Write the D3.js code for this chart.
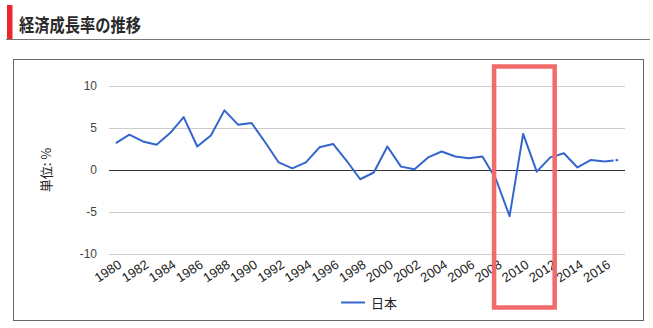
<!DOCTYPE html>
<html><head><meta charset="utf-8">
<script src="https://cdn.jsdelivr.net/npm/d3@7"></script>
<style>
body{margin:0;background:#fff;}
svg{display:block;}
</style></head>
<body>
<svg id="c" width="653" height="328"></svg>
<script>
const title = "経済成長率の推移";
const seriesName = "日本";
const yAxisTitle = "単位: %";
const years = d3.range(1980, 2018);
const growth = [3.2, 4.2, 3.4, 3.0, 4.4, 6.3, 2.8, 4.1, 7.1, 5.4,
                5.6, 3.3, 0.9, 0.2, 0.9, 2.7, 3.1, 1.1, -1.1, -0.3,
                2.8, 0.4, 0.1, 1.5, 2.2, 1.6, 1.4, 1.6, -1.1, -5.5,
                4.3, -0.2, 1.5, 2.0, 0.3, 1.2, 1.0, 1.2];
const yTicks = [-10, -5, 0, 5, 10];
const xTickLabels = d3.range(1980, 2017, 2);
const highlightFrom = 2008, highlightTo = 2012;

const svg = d3.select("#c");
const numFont = "'Liberation Sans', Arial, sans-serif";
const jpFont = "'Noto Sans CJK JP', sans-serif";

// header
svg.append("rect").attr("x", 7).attr("y", 5).attr("width", 5.5).attr("height", 34).attr("fill", "#e8282d");
svg.append("line").attr("x1", 6).attr("x2", 650).attr("y1", 39.5).attr("y2", 39.5).attr("stroke", "#777").attr("stroke-width", 1);
svg.append("text").attr("x", 19).attr("y", 31.5).attr("font-family", jpFont).attr("font-weight", "bold")
  .attr("font-size", 18.5).attr("fill", "#2a2a2a")
  .attr("textLength", 122).attr("lengthAdjust", "spacingAndGlyphs").text(title);

// chart frame
svg.append("rect").attr("x", 13.5).attr("y", 59.5).attr("width", 630).attr("height", 261)
  .attr("fill", "#fff").attr("stroke", "#666").attr("stroke-width", 1);

const x = d3.scalePoint().domain(years).range([109, 625]).padding(0.5);
const y = d3.scaleLinear().domain([-10, 10]).range([254, 86]);

// grid
const g = svg.append("g");
g.selectAll("line.grid").data(yTicks.filter(d => d !== 0)).join("line")
  .attr("x1", 109).attr("x2", 625).attr("y1", d => Math.round(y(d)) + 0.5).attr("y2", d => Math.round(y(d)) + 0.5)
  .attr("stroke", "#ccc").attr("stroke-width", 1);
g.append("line").attr("x1", 109).attr("x2", 625).attr("y1", Math.round(y(0)) + 0.5).attr("y2", Math.round(y(0)) + 0.5)
  .attr("stroke", "#333").attr("stroke-width", 1);

// y axis labels
const yAxis = d3.axisLeft(y).tickValues(yTicks).tickSize(0).tickPadding(0).tickFormat(d => String(d));
svg.append("g").attr("transform", "translate(97,0)").call(yAxis)
  .call(s => s.select(".domain").remove())
  .selectAll("text").attr("font-family", numFont).attr("font-size", 12).attr("fill", "#444");

// y axis title
svg.append("text").attr("transform", "translate(51,170) rotate(-90)").attr("text-anchor", "middle")
  .attr("font-family", jpFont).attr("font-size", 13).attr("fill", "#222").text(yAxisTitle);

// x axis labels
const xAxis = d3.axisBottom(x).tickValues(xTickLabels).tickSize(0).tickPadding(0).tickFormat(d => String(d));
svg.append("g").attr("transform", "translate(0,262)").call(xAxis)
  .call(s => s.select(".domain").remove())
  .selectAll("text").attr("font-family", numFont).attr("font-size", 13).attr("fill", "#222")
  .attr("text-anchor", "end").attr("dy", "0.45em")
  .attr("transform", "translate(3,0) rotate(-33)");

// line
const pts = years.map((yr, i) => [yr, growth[i]]);
const line = d3.line().x(d => x(d[0])).y(d => y(d[1]));
svg.append("path").datum(pts.slice(0, pts.length - 1)).attr("d", line)
  .attr("fill", "none").attr("stroke", "#3366cc").attr("stroke-width", 2).attr("stroke-linejoin", "round");
svg.append("path").datum(pts.slice(pts.length - 2)).attr("d", line)
  .attr("fill", "none").attr("stroke", "#3366cc").attr("stroke-width", 2).attr("stroke-dasharray", "9,2");

// legend
svg.append("line").attr("x1", 341).attr("x2", 365).attr("y1", 302.5).attr("y2", 302.5)
  .attr("stroke", "#3366cc").attr("stroke-width", 2);
svg.append("text").attr("x", 371).attr("y", 307.5).attr("font-family", jpFont).attr("font-size", 13)
  .attr("fill", "#222").text(seriesName);

// highlight box
const step = x.step();
const hx1 = x(highlightFrom) - step * 0.14, hx2 = x(highlightTo) + step * 0.32;
svg.append("rect").attr("x", hx1).attr("y", 66.5).attr("width", hx2 - hx1).attr("height", 241)
  .attr("fill", "none").attr("stroke", "#f26a6a").attr("stroke-width", 4.5);
</script>
</body></html>
